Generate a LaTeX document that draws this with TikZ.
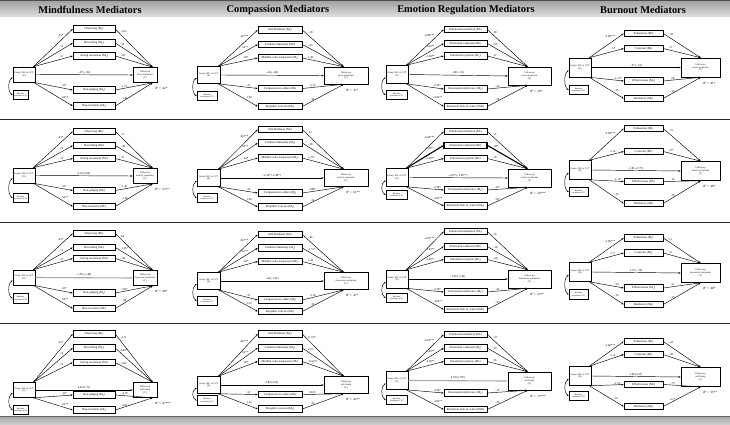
\documentclass[tikz,border=0pt]{standalone}
\usepackage{fontspec}
\setmainfont{Liberation Serif}
\usetikzlibrary{arrows.meta}
\newcommand\msub[1]{\raisebox{-0.3ex}{\fontsize{2.1}{2.1}\selectfont #1}}
\newcommand\msup[1]{\raisebox{0.7ex}{\fontsize{2.1}{2.1}\selectfont #1}}
\newcommand\Mn[2]{#1 (M\msub{#2})}
\tikzset{
 mbox/.style={draw, line width=0.55pt, minimum height=6.5pt, align=center, inner sep=0.3pt, font=\fontsize{3}{3.4}\selectfont},
 xybox/.style={draw, line width=0.6pt, align=center, inner sep=0.4pt, font=\fontsize{2.4}{2.9}\selectfont},
 blbox/.style={draw, line width=0.55pt, align=center, inner sep=0.3pt, font=\fontsize{2.1}{2.5}\selectfont},
 arr/.style={line width=0.45pt, -{Stealth[length=2.4pt,width=1.8pt]}},
 dbl/.style={line width=0.45pt, {Stealth[length=2pt,width=1.5pt]}-{Stealth[length=2pt,width=1.5pt]}},
 lab/.style={font=\fontsize{2.9}{3.2}\selectfont, inner sep=0.6pt},
 rsq/.style={font=\fontsize{3.2}{3.6}\selectfont, anchor=west, inner sep=0.5pt},
 title/.style={font=\fontsize{10.4}{12}\selectfont\bfseries, inner sep=0pt},
 sep/.style={line width=1pt, draw=black!85},
 thk/.style={line width=1.1pt},
 gry/.style={line width=1.1pt, draw=gray!65}
}
\newcommand\geom[9]{\def\Xl{#1}\def\Xr{#2}\def\Ml{#3}\def\Mr{#4}\def\Yl{#5}\def\Yr{#6}\def\BLl{#7}\def\BLr{#8}\def\Bh{#9}}
\newcommand\pstart[6]{%
 \def\pfx{#1}%
 \pgfmathsetmacro\pw{\Xr-\Xl}\pgfmathsetmacro\pc{(\Xl+\Xr)/2}%
 \node[xybox, minimum width=\pw pt, minimum height=\Bh pt] (#1-X) at (\pc,#2) {Group: WL vs CCT\\(X)};
 \pgfmathsetmacro\pw{\Yr-\Yl}\pgfmathsetmacro\pc{(\Yl+\Yr)/2}%
 \node[xybox, minimum width=\pw pt, minimum height=\Bh pt] (#1-Y) at (\pc,#3) {Follow-up\\#5\\(Y)};
 \pgfmathsetmacro\pw{\BLr-\BLl}\pgfmathsetmacro\pc{(\BLl+\BLr)/2}%
 \node[blbox, minimum width=\pw pt, minimum height=9.5pt] (#1-B) at (\pc,#4) {Baseline\\covariates (CV)};
 \draw[dbl] ([yshift=-3pt]#1-X.west) .. controls +(-5,3) and +(-5,-3) .. (#1-B.west);
 \node[rsq] (#1-R) at ([xshift=22pt,yshift=-6pt]#1-Y.south west) {\textit{R}\msup{2} = #6};
}
\newcommand\medtop[6][]{%
 \pgfmathsetmacro\pw{\Mr-\Ml}\pgfmathsetmacro\pc{(\Ml+\Mr)/2}%
 \node[mbox, minimum width=\pw pt, #1] (\pfx-m#2) at (\pc,#3) {#4};
 \draw[arr,#1] ([xshift=-2pt]\pfx-X.north east) -- node[lab, pos=0.78, anchor=south east]{#5} (\pfx-m#2.west);
 \draw[arr,#1] (\pfx-m#2.east) -- node[lab, pos=0.12, anchor=south west]{#6} ([xshift=20pt]\pfx-Y.north west);
}
\newcommand\medbot[6][]{%
 \pgfmathsetmacro\pw{\Mr-\Ml}\pgfmathsetmacro\pc{(\Ml+\Mr)/2}%
 \node[mbox, minimum width=\pw pt, #1] (\pfx-m#2) at (\pc,#3) {#4};
 \draw[arr,#1] ([xshift=-2pt]\pfx-X.south east) -- node[lab, pos=0.7, anchor=south west]{#5} (\pfx-m#2.west);
 \draw[arr,#1] (\pfx-m#2.east) -- node[lab, pos=0.25, anchor=south]{#6} ([xshift=20pt]\pfx-Y.south west);
}
\newcommand\direct[2][]{\draw[arr,#1] (\pfx-X.east) -- node[lab, above]{#2} (\pfx-Y.west);}
\begin{document}
\begin{tikzpicture}[x=1pt,y=-1pt]
\useasboundingbox (0,0) rectangle (730,425);
\fill[white] (0,0) rectangle (730,425);
% header
\shade[top color=gray!75, bottom color=gray!25] (0,0) rectangle (730,17);
\draw[line width=1pt, black!70] (0,0.5) -- (730,0.5);
\node[title] (t1) at (90,10) {Mindfulness Mediators};
\node[title] (t2) at (278,10) {Compassion Mediators};
\node[title] (t3) at (466,10) {Emotion Regulation Mediators};
\node[title] (t4) at (643,10) {Burnout Mediators};
% separators
\draw[sep] (0,120) -- (730,120);
\draw[sep] (0,222) -- (730,222);
\draw[sep] (0,323) -- (730,323);
\shade[top color=gray!70, bottom color=gray!35] (0,416) rectangle (730,425);
\draw[line width=0.8pt, black!60] (0,416) -- (730,416);

% ===== Column 1: Mindfulness =====
\begin{scope}
\geom{13}{35}{73}{115}{133}{157}{13}{28}{15}
\pstart{a1}{74.5}{75}{95}{stress symptoms}{.42*}
\medtop{1}{29}{\Mn{Observing}{1}}{.43*}{-1.03}
\medtop{2}{43}{\Mn{Describing}{2}}{.12}{.90}
\medtop{3}{56}{\Mn{Acting awareness}{3}}{.11}{-.90}
\medbot{4}{90}{\Mn{Non-judging}{4}}{.33*}{1.71}
\medbot{5}{106}{\Mn{Non-reactivity}{5}}{.64**}{-1.81}
\direct{-.07 (-.05)}

\pstart{a2}{175.5}{176}{198}{anxiety symptoms}{.53**}
\medtop{1}{131.5}{\Mn{Observing}{1}}{.43*}{.71}
\medtop{2}{145.5}{\Mn{Describing}{2}}{.12}{-.48}
\medtop{3}{158.5}{\Mn{Acting awareness}{3}}{.12}{.37}
\medbot{4}{190.5}{\Mn{Non-judging}{4}}{.33*}{1.40}
\medbot{5}{206.5}{\Mn{Non-reactivity}{5}}{.64**}{-1.90}
\direct{4.19 (4.59)}

\pstart{a3}{277.5}{278}{298.5}{depression symptoms}{.48*}
\medtop{1}{233.5}{\Mn{Observing}{1}}{.43*}{.66}
\medtop{2}{247.5}{\Mn{Describing}{2}}{.11}{-1.16*}
\medtop{3}{258.5}{\Mn{Acting awareness}{3}}{.11}{-.84}
\medbot{4}{293}{\Mn{Non-judging}{4}}{.43*}{1.85*}
\medbot{5}{308.5}{\Mn{Non-reactivity}{5}}{.64**}{.86}
\direct[gry]{-1.55 (-1.48)}

\pstart{a4}{390}{390}{410}{well-being}{.47***}
\medtop{1}{334}{\Mn{Observing}{1}}{.43*}{-1.71}
\medtop{2}{348}{\Mn{Describing}{2}}{.12}{4.83*}
\medtop{3}{362.5}{\Mn{Acting awareness}{3}}{.12}{-2.82}
\medbot{4}{395}{\Mn{Non-judging}{4}}{.33*}{-4.78}
\medbot{5}{410}{\Mn{Non-reactivity}{5}}{.65**}{4.63}
\direct{4.43 (5.71)}
\end{scope}

% ===== Column 2: Compassion =====
\begin{scope}[xshift=185pt]
\geom{12}{35}{73}{117}{139}{183}{12}{32}{17}
\pstart{b1}{75}{75.5}{96}{stress symptoms}{.37*}
\medtop{1}{30}{\Mn{Self-Kindness}{1}}{.66***}{-.18}
\medtop{2}{44.5}{\Mn{Common Humanity}{2}}{.62**}{-.33}
\medtop{3}{58}{\Mn{Mindful self-compassion}{3}}{.18*}{1.28}
\medbot{4}{88.5}{\Mn{Compassion to others}{4}}{.32}{-2.14}
\medbot{5}{106.5}{\Mn{Empathic concern}{5}}{1.98}{.34}
\direct{-.44 (-.48)}

\pstart{b2}{178}{178}{198}{anxiety symptoms}{.61**}
\medtop{1}{129.5}{\Mn{Self-Kindness}{1}}{.66***}{.32}
\medtop{2}{143}{\Mn{Common Humanity}{2}}{.62**}{-.98}
\medtop{3}{158}{\Mn{Mindful self-compassion}{3}}{.18*}{1.31*}
\medbot{4}{193}{\Mn{Compassion to others}{4}}{.32}{4.88*}
\medbot{5}{207}{\Mn{Empathic concern}{5}}{1.98}{.32}
\direct{-2.18* (-2.48*)}

\pstart{b3}{281}{281}{301}{depression symptoms}{.47*}
\medtop{1}{234.5}{\Mn{Self-Kindness}{1}}{.66***}{-.66}
\medtop{2}{248}{\Mn{Common Humanity}{2}}{.62**}{-1.31*}
\medtop{3}{261.5}{\Mn{Mindful self-compassion}{3}}{.18*}{1.28}
\medbot{4}{300}{\Mn{Compassion to others}{4}}{.32}{-2.18}
\medbot{5}{311.5}{\Mn{Empathic concern}{5}}{1.22}{.32}
\direct{-.64 (-1.42)}

\pstart{b4}{385}{385}{400.5}{well-being}{.42**}
\medtop{1}{334}{\Mn{Self-Kindness}{1}}{.66***}{11.53*}
\medtop{2}{348}{\Mn{Common Humanity}{2}}{.62**}{2.21}
\medtop{3}{361.5}{\Mn{Mindful self-compassion}{3}}{.18*}{-12.65*}
\medbot{4}{394.5}{\Mn{Compassion to others}{4}}{.32}{10.81}
\medbot{5}{409}{\Mn{Empathic concern}{5}}{1.22}{.32}
\direct{2.80 (4.25)}
\end{scope}

% ===== Column 3: Emotion regulation =====
\begin{scope}[xshift=365pt]
\geom{21}{43}{79}{122}{143}{186}{21}{42}{18}
\pstart{c1}{74.5}{76}{95}{stress symptoms}{.39*}
\medtop{1}{29.5}{\Mn{Emotional inattention}{1}}{-4.88***}{.18}
\medtop{2}{43.5}{\Mn{Emotional confusion}{2}}{-2.69**}{.74*}
\medtop{3}{56}{\Mn{Emotional rejection}{3}}{-3.58**}{.12}
\medbot{4}{89}{\Mn{Emotional interference}{4}}{-2.58*}{-.43}
\medbot{5}{106.5}{\Mn{Emotional lack of control}{5}}{-4.82**}{.32}
\direct{-.08 (-.01)}

\pstart{c2}{177.5}{178}{195}{anxiety symptoms}{.59***}
\medtop{1}{131.5}{\Mn{Emotional inattention}{1}}{-4.69***}{.17}
\medtop[thk]{2}{145.5}{\Mn{Emotional confusion}{2}}{-2.69**}{.84*}
\medtop{3}{158.5}{\Mn{Emotional rejection}{3}}{-3.58**}{.18}
\medbot{4}{190}{\Mn{Emotional interference}{4}}{-2.58*}{.45*}
\medbot{5}{206}{\Mn{Emotional lack of control}{5}}{-4.82**}{.34*}
\direct{-2.09* (-3.89**)}

\pstart{c3}{279}{279}{298}{depression symptoms}{.53**}
\medtop{1}{231.5}{\Mn{Emotional inattention}{1}}{-4.69***}{.16}
\medtop{2}{246.5}{\Mn{Emotional confusion}{2}}{-2.69**}{-.18}
\medtop{3}{259.5}{\Mn{Emotional rejection}{3}}{-3.58**}{-.08}
\medbot{4}{292}{\Mn{Emotional interference}{4}}{-2.58*}{.46}
\medbot{5}{309.5}{\Mn{Emotional lack of control}{5}}{-4.82**}{-.07}
\direct{-1.90 (-1.45)}

\pstart{c4}{380.5}{381}{400}{well-being}{.72***}
\medtop{1}{334.5}{\Mn{Emotional inattention}{1}}{-4.69***}{-.07}
\medtop{2}{348}{\Mn{Emotional confusion}{2}}{-2.69**}{.39}
\medtop{3}{361.5}{\Mn{Emotional rejection}{3}}{-3.58**}{.26}
\medbot{4}{393}{\Mn{Emotional interference}{4}}{-2.58*}{-.32}
\medbot{5}{409.5}{\Mn{Emotional lack of control}{5}}{-4.82**}{-.16}
\direct[gry]{4.70 (5.78*)}
\end{scope}

% ===== Column 4: Burnout =====
\begin{scope}[xshift=548pt]
\geom{21}{43}{76}{115}{133}{172}{21}{40}{19}
\pstart{d1}{67.5}{67.5}{90}{stress symptoms}{.41*}
\medtop{1}{33.5}{\Mn{Exhaustion}{1}}{-2.86***}{-.18}
\medtop{2}{48.5}{\Mn{Cynicism}{2}}{-.57}{.11}
\medbot{3}{81}{\Mn{Effectiveness}{3}}{-1.13*}{.06}
\medbot{4}{98.5}{\Mn{Resilience}{4}}{-.35}{-.16}
\direct{-.37 (-.41)}

\pstart{d2}{170}{171}{192}{anxiety symptoms}{.48*}
\medtop{1}{128.5}{\Mn{Exhaustion}{1}}{-2.86***}{-.17}
\medtop{2}{151.5}{\Mn{Cynicism}{2}}{-1.16}{.27*}
\medbot{3}{181.5}{\Mn{Effectiveness}{3}}{-1.13*}{.16}
\medbot{4}{203.5}{\Mn{Resilience}{4}}{-.35}{.18}
\direct{-2.81 (-2.77)}

\pstart{d3}{272}{273}{294.5}{depression symptoms}{.48*}
\medtop{1}{238}{\Mn{Exhaustion}{1}}{-2.86***}{.11}
\medtop{2}{253}{\Mn{Cynicism}{2}}{1.71}{.11}
\medbot{3}{288}{\Mn{Effectiveness}{3}}{-.19}{.21}
\medbot{4}{304.5}{\Mn{Resilience}{4}}{-.35}{-.19}
\direct{1.57 (-.20)}

\pstart{d4}{376}{377}{396}{well-being}{.55**}
\medtop{1}{341.5}{\Mn{Exhaustion}{1}}{-2.86***}{-.24}
\medtop{2}{354.5}{\Mn{Cynicism}{2}}{-1.16}{-.38}
\medbot{3}{384.5}{\Mn{Effectiveness}{3}}{-1.91}{-.73}
\medbot{4}{406.5}{\Mn{Resilience}{4}}{.16}{4.17}
\direct{2.89 (4.37)}
\end{scope}
\end{tikzpicture}
\end{document}
